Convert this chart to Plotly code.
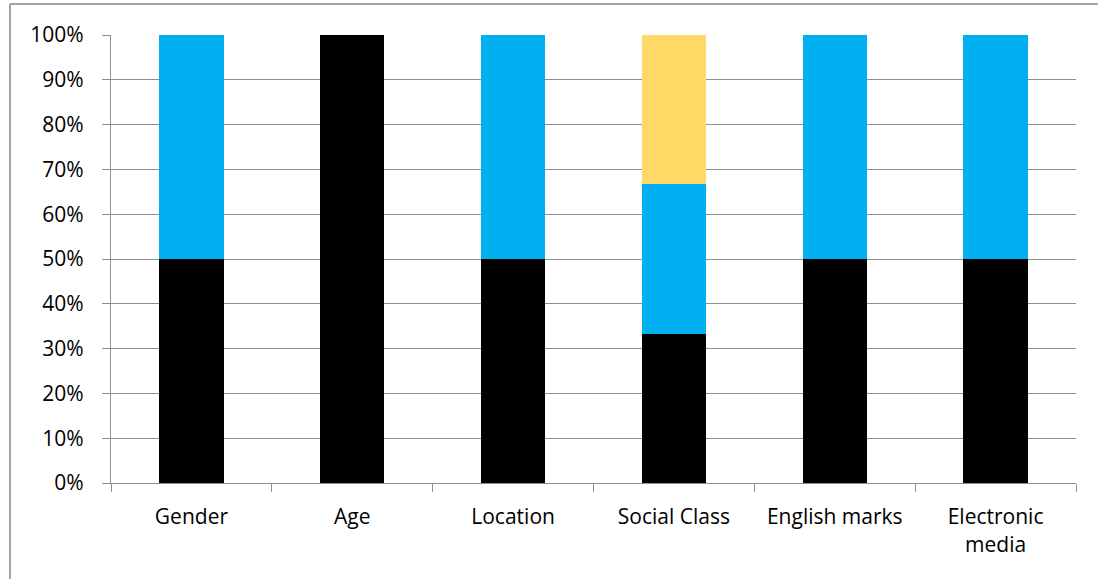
import plotly.graph_objects as go

categories = ["Gender", "Age", "Location", "Social Class", "English marks", "Electronic<br>media"]
series_black = [0.50, 1.00, 0.50, 0.333, 0.50, 0.50]
series_blue = [0.50, 0.00, 0.50, 0.334, 0.50, 0.50]
series_yellow = [0.00, 0.00, 0.00, 0.333, 0.00, 0.00]
y_ticks = [i / 10 for i in range(11)]

W, H = 1098, 579
L, R, T, B = 111, 22, 35, 96
pw, ph = W - L - R, H - T - B

grid = "#8f8f8f"
font = dict(family="Open Sans, Lato, sans-serif", size=21, color="#000000")

fig = go.Figure()
for vals, col, name in [(series_black, "#000000", "S1"), (series_blue, "#00B0F0", "S2"), (series_yellow, "#FFD966", "S3")]:
    fig.add_trace(go.Bar(x=categories, y=vals, marker=dict(color=col, line=dict(width=0)), name=name, width=0.4))

def px_x(px):
    return (px - L) / pw

def px_y(py):
    return (H - B - py) / ph

fig.update_layout(
    width=W, height=H,
    margin=dict(l=L, r=R, t=T, b=B, pad=0),
    barmode="stack",
    showlegend=False,
    plot_bgcolor="white", paper_bgcolor="white",
    font=font,
    xaxis=dict(
        showline=True, linecolor=grid, linewidth=1.3,
        ticks="outside", tickson="boundaries", ticklen=8, tickcolor=grid, tickwidth=1.3,
        showgrid=False, ticklabelstandoff=15,
    ),
    yaxis=dict(
        range=[0, 1], tickvals=y_ticks, tickformat=".0%",
        showline=True, linecolor=grid, linewidth=1.3,
        ticks="outside", ticklen=8, tickcolor=grid, tickwidth=1.3,
        showgrid=True, gridcolor=grid, gridwidth=1.3, zeroline=False,
        ticklabelstandoff=14,
    ),
    shapes=[
        dict(type="line", xref="paper", yref="paper", x0=px_x(10), x1=px_x(1110), y0=px_y(4), y1=px_y(4),
             line=dict(color="#878787", width=1.5)),
        dict(type="line", xref="paper", yref="paper", x0=px_x(10), x1=px_x(10), y0=px_y(4), y1=px_y(600),
             line=dict(color="#878787", width=1.5)),
    ],
)

fig.write_html("out.html")
